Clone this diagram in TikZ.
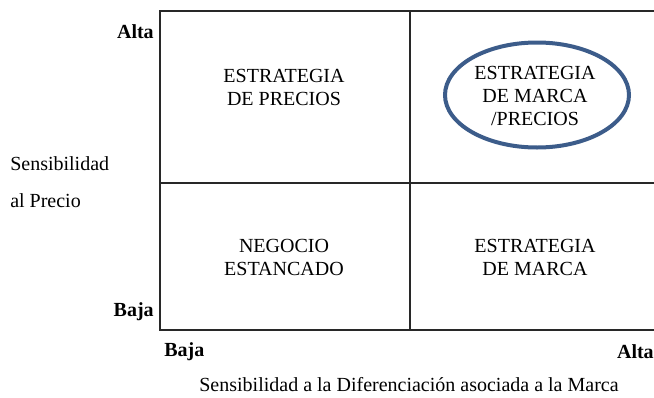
\documentclass[tikz,border=0pt]{standalone}
\usepackage{fontspec}
\setmainfont{Liberation Serif}
\usepackage{xcolor}
\usetikzlibrary{positioning,shapes.geometric}
\definecolor{mtxblue}{RGB}{60,92,138}
\definecolor{mtxline}{RGB}{40,40,40}

\begin{document}
\begin{tikzpicture}[
  x=0.75pt, y=-0.75pt,
  quad/.style={align=center, font=\fontsize{15}{17.25}\selectfont, inner sep=0pt},
  lvl/.style={font=\fontsize{15}{18}\selectfont\bfseries, inner sep=0pt},
  axis/.style={font=\fontsize{15}{27.75}\selectfont, inner sep=0pt},
  grid/.style={draw=mtxline, line width=1pt},
  oval/.style={ellipse, draw=mtxblue, line width=3pt,
    minimum width=138pt, minimum height=78.75pt}
]
  \useasboundingbox (0,0) rectangle (654,397);

  % --- Corners of the matrix ---
  \coordinate (tl) at (160,11);
  \coordinate (tr) at (654,11);
  \coordinate (bl) at (160,330);
  \coordinate (br) at (654,330);
  \coordinate (tm) at (410,11);
  \coordinate (bm) at (410,330);
  \coordinate (ml) at (160,183);
  \coordinate (mr) at (654,183);

  % --- Frame and quadrant lines ---
  \draw[grid] (tr) -- (tl) -- (bl) -- (br);
  \draw[grid] (tm) -- (bm);
  \draw[grid] (ml) -- (mr);

  % --- Quadrant texts ---
  \node[quad] (precios)   at (284,87)  {ESTRATEGIA\\DE PRECIOS};
  \node[oval] (ovalo)     at (537,95)  {};
  \node[quad] (marcapre)  at (535,96)  {ESTRATEGIA\\DE MARCA\\/PRECIOS};
  \node[quad] (estancado) at (284,257) {NEGOCIO\\ESTANCADO};
  \node[quad] (marca)     at (535,257) {ESTRATEGIA\\DE MARCA};

  % --- Vertical axis ---
  \node[lvl, anchor=east] (yalta) at (154,32)  {Alta};
  \node[lvl, anchor=east] (ybaja) at (154,312) {Baja};
  \node[axis, align=left, anchor=west] (ytitle) at (10,182)
    {Sensibilidad\\al Precio};

  % --- Horizontal axis ---
  \node[lvl, anchor=west] (xbaja) at (164,352) {Baja};
  \node[lvl, anchor=east] (xalta) at (654,352) {Alta};
  \node[quad] (xtitle) at (409,385)
    {Sensibilidad a la Diferenciación asociada a la Marca};
\end{tikzpicture}
\end{document}
